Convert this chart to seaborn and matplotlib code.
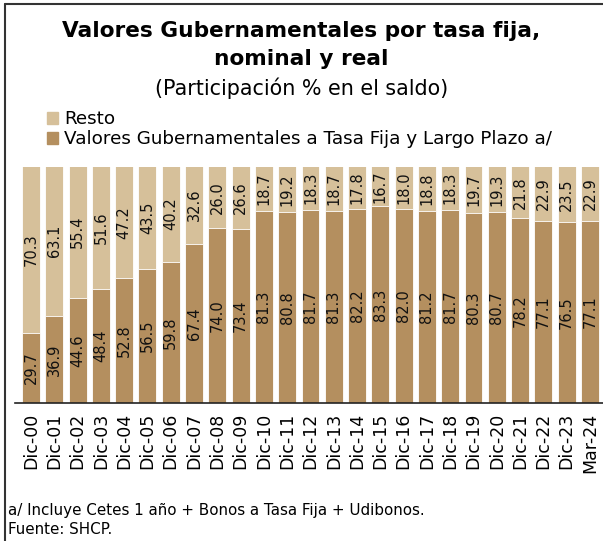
import pandas as pd
import matplotlib
matplotlib.use("Agg")
import matplotlib.pyplot as plt
import matplotlib.patches as mpatches
import seaborn as sns

periodos = ["Dic-00", "Dic-01", "Dic-02", "Dic-03", "Dic-04", "Dic-05", "Dic-06", "Dic-07",
            "Dic-08", "Dic-09", "Dic-10", "Dic-11", "Dic-12", "Dic-13", "Dic-14", "Dic-15",
            "Dic-16", "Dic-17", "Dic-18", "Dic-19", "Dic-20", "Dic-21", "Dic-22", "Dic-23", "Mar-24"]
tasa_fija = [29.7, 36.9, 44.6, 48.4, 52.8, 56.5, 59.8, 67.4, 74.0, 73.4, 81.3, 80.8, 81.7,
             81.3, 82.2, 83.3, 82.0, 81.2, 81.7, 80.3, 80.7, 78.2, 77.1, 76.5, 77.1]
resto = [70.3, 63.1, 55.4, 51.6, 47.2, 43.5, 40.2, 32.6, 26.0, 26.6, 18.7, 19.2, 18.3,
         18.7, 17.8, 16.7, 18.0, 18.8, 18.3, 19.7, 19.3, 21.8, 22.9, 23.5, 22.9]

df = pd.DataFrame({"periodo": periodos, "fija": tasa_fija, "resto": resto})
df["total"] = df["fija"] + df["resto"]

claro = "#D6C09A"
oscuro = "#B48F5F"

sns.set_style("white")
plt.rcParams["font.family"] = ["DejaVu Sans"]
plt.rcParams["text.color"] = "black"
plt.rcParams["xtick.color"] = "black"
plt.rcParams["xtick.labelcolor"] = "black"

fig = plt.figure(figsize=(6.03, 5.41), dpi=100)
ax = fig.add_axes([15 / 603, 1 - 403 / 541, 588 / 603, 236.5 / 541])

sns.barplot(data=df, x="periodo", y="total", color=claro, width=0.77,
            edgecolor="white", linewidth=0.6, saturation=1, ax=ax)
sns.barplot(data=df, x="periodo", y="fija", color=oscuro, width=0.77,
            edgecolor="white", linewidth=0.6, saturation=1, ax=ax)

# etiquetas dentro de las barras
for i, row in df.iterrows():
    ax.text(i, row["fija"] / 2, f"{row['fija']:.1f}", rotation=90, ha="center",
            va="center", fontsize=10.5, color="#111111")
    ax.text(i, row["fija"] + row["resto"] / 2, f"{row['resto']:.1f}", rotation=90,
            ha="center", va="center", fontsize=10.5, color="#111111")

ax.set_ylim(0, 100)
ax.set_xlim(-0.687, 24.56)
ax.set_xlabel("")
ax.set_ylabel("")
ax.set_yticks([])
ax.tick_params(axis="x", rotation=90, labelsize=12.5, length=0, pad=7)
for s in ["top", "right", "left"]:
    ax.spines[s].set_visible(False)
ax.spines["bottom"].set_color("#222222")
ax.spines["bottom"].set_linewidth(1.2)

fig.text(0.5, 1 - 31 / 541, "Valores Gubernamentales por tasa fija,", ha="center",
         va="center", fontsize=15.6, fontweight="bold")
fig.text(0.5, 1 - 59 / 541, "nominal y real", ha="center", va="center",
         fontsize=15.6, fontweight="bold")
fig.text(0.5, 1 - 88 / 541, "(Participación % en el saldo)", ha="center",
         va="center", fontsize=14.9)

handles = [mpatches.Patch(color=claro, label="Resto"),
           mpatches.Patch(color=oscuro, label="Valores Gubernamentales a Tasa Fija y Largo Plazo a/")]
fig.legend(handles=handles, loc="upper left", bbox_to_anchor=(40 / 603, 1 - 103 / 541),
           frameon=False, fontsize=13.2, handlelength=0.6, handleheight=0.6,
           handletextpad=0.3, labelspacing=0.1, borderaxespad=0)

fig.text(8 / 603, 1 - 511 / 541, "a/ Incluye Cetes 1 año + Bonos a Tasa Fija + Udibonos.",
         ha="left", va="center", fontsize=10.9)
fig.text(8 / 603, 1 - 530 / 541, "Fuente: SHCP.", ha="left", va="center", fontsize=10.9)

# marco de la imagen
fig.add_artist(plt.Line2D([5 / 603, 5 / 603], [0, 1 - 4 / 541], color="#333333", lw=1.5))
fig.add_artist(plt.Line2D([5 / 603, 1], [1 - 4 / 541, 1 - 4 / 541], color="#333333", lw=1.5))

fig.savefig("out.png", dpi=100)
